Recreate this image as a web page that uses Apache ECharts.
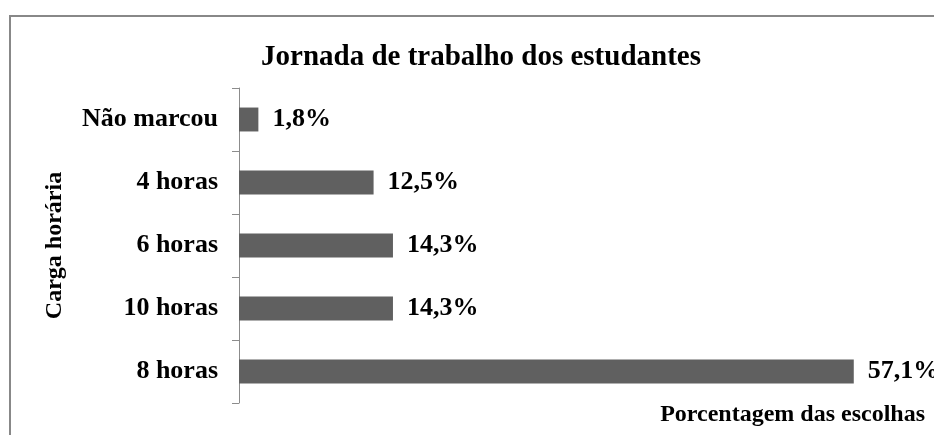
<!DOCTYPE html>
<html>
<head>
<meta charset="utf-8">
<script src="https://cdn.jsdelivr.net/npm/echarts@6/dist/echarts.min.js"></script>
<style>
  html, body { margin: 0; padding: 0; background: #fff; }
  #chart { width: 934px; height: 435px; }
</style>
</head>
<body>
<div id="chart"></div>
<script>
  var categories = ['Não marcou', '4 horas', '6 horas', '10 horas', '8 horas'];
  var values = [1.8, 12.5, 14.3, 14.3, 57.1];

  var serif = "'Liberation Serif', 'Times New Roman', serif";
  var chart = echarts.init(document.getElementById('chart'));

  var option = {
    backgroundColor: '#FFFFFF',
    animation: false,
    title: {
      text: 'Jornada de trabalho dos estudantes',
      left: 476,
      textAlign: 'center',
      top: 38,
      textStyle: { fontFamily: serif, fontWeight: 'bold', fontSize: 29, color: '#000' }
    },
    graphic: [
      {
        type: 'rect',
        shape: { x: 10, y: 16, width: 1000, height: 500 },
        style: { fill: 'none', stroke: '#888888', lineWidth: 2 }
      }
    ],
    grid: {
      left: 239,
      right: 49,
      top: 88,
      bottom: 32
    },
    xAxis: {
      type: 'value',
      min: 0,
      max: 60,
      name: 'Porcentagem das escolhas',
      nameLocation: 'end',
      nameGap: 40,
      nameTextStyle: {
        fontFamily: serif, fontWeight: 'bold', fontSize: 24, color: '#000',
        align: 'right', verticalAlign: 'top', padding: [0, 0, 0, 0]
      },
      axisLine: { show: false },
      axisTick: { show: false },
      axisLabel: { show: false },
      splitLine: { show: false }
    },
    yAxis: {
      type: 'category',
      inverse: true,
      data: categories,
      name: 'Carga horária',
      nameLocation: 'middle',
      nameGap: 172,
      nameRotate: 90,
      nameTextStyle: { fontFamily: serif, fontWeight: 'bold', fontSize: 24, color: '#000' },
      axisLine: { show: true, lineStyle: { color: '#8c8c8c', width: 1 } },
      axisTick: { show: true, length: 7, lineStyle: { color: '#8c8c8c' } },
      axisLabel: {
        margin: 21,
        fontFamily: serif, fontWeight: 'bold', fontSize: 26, color: '#000'
      }
    },
    series: [
      {
        type: 'bar',
        data: values,
        barCategoryGap: '62%',
        itemStyle: { color: '#606060' },
        label: {
          show: true,
          position: 'right',
          distance: 14,
          fontFamily: serif, fontWeight: 'bold', fontSize: 26, color: '#000',
          formatter: function (p) {
            return p.value.toFixed(1).replace('.', ',') + '%';
          }
        }
      }
    ]
  };

  chart.setOption(option);
</script>
</body>
</html>
